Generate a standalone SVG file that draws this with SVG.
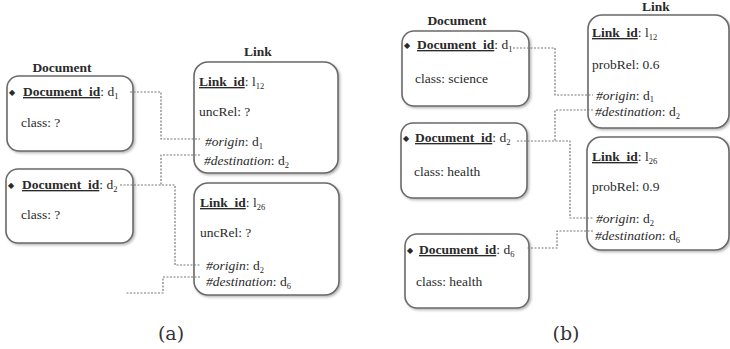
<svg xmlns="http://www.w3.org/2000/svg" width="730" height="349" viewBox="0 0 730 349">
<defs>
<filter id="sh" x="-10%" y="-10%" width="130%" height="130%">
<feDropShadow dx="1.5" dy="1.5" stdDeviation="1.2" flood-color="#888" flood-opacity="0.6"/>
</filter>
<style>
.box{fill:#fff;stroke:#6a6a6a;stroke-width:1.6;filter:url(#sh)}
text{font-family:"Liberation Serif","Times New Roman",serif;font-size:13.5px;fill:#2a2a2a}
.b{font-weight:bold}
.u{text-decoration:underline}
.i{font-style:italic}
.sub{font-size:8.5px}
.dia{font-family:"DejaVu Sans",sans-serif;font-size:8px}
.cap{font-family:"DejaVu Serif",serif;font-size:19px;fill:#333}
.con{fill:none;stroke:#7a7a7a;stroke-width:1.2;stroke-dasharray:2 1.5}
</style>
</defs>

<!-- Panel (a) -->
<text class="b" x="62" y="72" text-anchor="middle">Document</text>
<text class="b" x="258" y="56" text-anchor="middle">Link</text>

<g id="a-doc1">
<rect class="box" x="7" y="76" width="126" height="75" rx="12"/>
<text x="9" y="95" class="dia">◆</text>
<text x="23" y="96"><tspan class="b u">Document_id</tspan>: d<tspan class="sub" dy="2.5">1</tspan></text>
<text x="21" y="127">class: ?</text>
</g>

<g id="a-doc2">
<rect class="box" x="6" y="169" width="127" height="74" rx="12"/>
<text x="8" y="188" class="dia">◆</text>
<text x="22" y="189"><tspan class="b u">Document_id</tspan>: d<tspan class="sub" dy="2.5">2</tspan></text>
<text x="21" y="219">class: ?</text>
</g>

<g id="a-link1">
<rect class="box" x="194" y="62" width="144" height="111" rx="14"/>
<text x="199" y="86"><tspan class="b u">Link_id</tspan>: l<tspan class="sub" dy="2.5">12</tspan></text>
<text x="199" y="116">uncRel: ?</text>
<text x="205" y="146"><tspan class="i">#origin</tspan>: d<tspan class="sub" dy="2.5">1</tspan></text>
<text x="204" y="165"><tspan class="i">#destination</tspan>: d<tspan class="sub" dy="2.5">2</tspan></text>
</g>

<g id="a-link2">
<rect class="box" x="194" y="183" width="145" height="112" rx="14"/>
<text x="200" y="207"><tspan class="b u">Link_id</tspan>: l<tspan class="sub" dy="2.5">26</tspan></text>
<text x="200" y="237">uncRel: ?</text>
<text x="206" y="270"><tspan class="i">#origin</tspan>: d<tspan class="sub" dy="2.5">2</tspan></text>
<text x="206" y="286"><tspan class="i">#destination</tspan>: d<tspan class="sub" dy="2.5">6</tspan></text>
</g>

<!-- Panel (b) -->
<text class="b" x="457" y="25" text-anchor="middle">Document</text>
<text class="b" x="656" y="11" text-anchor="middle">Link</text>

<g id="b-doc1">
<rect class="box" x="402" y="31" width="127" height="75" rx="12"/>
<text x="404" y="48" class="dia">◆</text>
<text x="417" y="49"><tspan class="b u">Document_id</tspan>: d<tspan class="sub" dy="2.5">1</tspan></text>
<text x="415" y="83">class: science</text>
</g>

<g id="b-doc2">
<rect class="box" x="401" y="123" width="126" height="75" rx="12"/>
<text x="403" y="141" class="dia">◆</text>
<text x="415" y="142"><tspan class="b u">Document_id</tspan>: d<tspan class="sub" dy="2.5">2</tspan></text>
<text x="414" y="176">class: health</text>
</g>

<g id="b-doc3">
<rect class="box" x="405" y="234" width="124" height="74" rx="12"/>
<text x="407" y="253" class="dia">◆</text>
<text x="419" y="254"><tspan class="b u">Document_id</tspan>: d<tspan class="sub" dy="2.5">6</tspan></text>
<text x="416" y="286">class: health</text>
</g>

<g id="b-link1">
<rect class="box" x="588" y="15" width="141" height="113" rx="14"/>
<text x="592" y="37"><tspan class="b u">Link_id</tspan>: l<tspan class="sub" dy="2.5">12</tspan></text>
<text x="592" y="69">probRel: 0.6</text>
<text x="596" y="100"><tspan class="i">#origin</tspan>: d<tspan class="sub" dy="2">1</tspan></text>
<text x="595" y="116"><tspan class="i">#destination</tspan>: d<tspan class="sub" dy="2.5">2</tspan></text>
</g>

<g id="b-link2">
<rect class="box" x="587" y="137" width="142" height="113" rx="14"/>
<text x="592" y="161"><tspan class="b u">Link_id</tspan>: l<tspan class="sub" dy="2.5">26</tspan></text>
<text x="592" y="191">probRel: 0.9</text>
<text x="596" y="223"><tspan class="i">#origin</tspan>: d<tspan class="sub" dy="2.5">2</tspan></text>
<text x="595" y="240"><tspan class="i">#destination</tspan>: d<tspan class="sub" dy="2.5">6</tspan></text>
</g>

<g id="connectors">
<path class="con" d="M130,92 H161 V139 H200"/>
<path class="con" d="M200,155 H161 V185"/>
<path class="con" d="M120,185 H175 V265 H200"/>
<path class="con" d="M200,277 H163 V293 H125"/>
<path class="con" d="M513,48 H555 V95 H593"/>
<path class="con" d="M593,110 H555 V141"/>
<path class="con" d="M517,141 H570 V218 H593"/>
<path class="con" d="M593,231 H557 V248 H527"/>
</g>

<text class="cap" x="171" y="340" text-anchor="middle">(a)</text>
<text class="cap" x="566" y="340" text-anchor="middle">(b)</text>
</svg>
